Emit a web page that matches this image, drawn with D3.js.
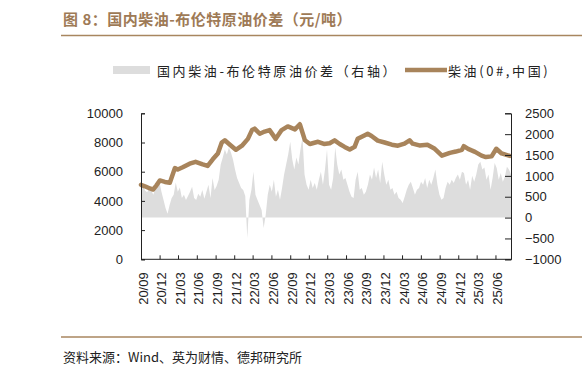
<!DOCTYPE html>
<html>
<head>
<meta charset="utf-8">
<script src="https://cdn.jsdelivr.net/npm/d3@7"></script>
<style>
  body { margin: 0; background: #fff; }
  svg { display: block; }
</style>
</head>
<body>
<svg id="chart" width="582" height="377"></svg>
<script>
// diesel price (left axis, 元/吨)
var diesel = [
  ["2020-09-01",5100],["2020-09-20",5000],["2020-10-15",4850],["2020-10-30",4780],
  ["2020-11-15",5050],["2020-12-02",5400],["2020-12-27",5300],["2021-01-20",5250],
  ["2021-02-14",6250],["2021-02-28",6150],["2021-03-24",6300],["2021-04-27",6550],
  ["2021-05-26",6680],["2021-06-30",6500],["2021-07-24",6400],["2021-08-18",6850],
  ["2021-09-12",7250],["2021-10-01",8000],["2021-10-16",8150],["2021-11-10",7850],
  ["2021-12-09",7500],["2022-01-08",7780],["2022-02-06",8250],["2022-02-26",8850],
  ["2022-03-11",8950],["2022-04-05",8600],["2022-04-29",8750],["2022-05-23",8850],
  ["2022-06-22",8250],["2022-07-21",8850],["2022-08-20",9100],["2022-09-24",8900],
  ["2022-10-18",9250],["2022-11-12",8150],["2022-12-06",7900],["2023-01-15",8050],
  ["2023-02-13",7900],["2023-03-13",7950],["2023-04-06",8150],["2023-05-01",7900],
  ["2023-05-25",7700],["2023-06-19",7520],["2023-07-13",7700],["2023-07-28",8250],
  ["2023-09-01",8500],["2023-09-15",8600],["2023-10-04",8450],["2023-11-03",8130],
  ["2023-12-07",8000],["2024-01-11",7850],["2024-02-10",7780],["2024-03-13",7920],
  ["2024-04-07",8150],["2024-04-22",7920],["2024-05-25",7800],["2024-07-03",7850],
  ["2024-08-08",7570],["2024-09-12",7100],["2024-10-21",7290],["2024-11-19",7380],
  ["2024-12-19",7500],["2024-12-28",7750],["2025-01-18",7560],["2025-02-21",7360],
  ["2025-03-25",7100],["2025-04-15",7000],["2025-05-13",7050],["2025-06-05",7570],
  ["2025-07-01",7250],["2025-08-10",7080]
];

// diesel - brent spread (right axis), one reading every 10 days from spreadStart
var spreadStart = "2020-09-01";
var spreadStepDays = 10;
var spread = [
  660,760,650,610,700, 660,550,700,760, 860, 620,430,230,90, 300,470,550, 840,620,720,
  470,550,420,520,620,740,470,420,570,500,660,450,
  620,790,470,950,660,760,910,
  1270,1440,1630,1510,1680,1560,1390,
  1150,950,830,710, 660,520,-490,420,
  660,1100,545,420,300,180,-250,60,
  545,790,620,910,500,665,425,710,
  1030,1270,1510,1820,1390,1150,1440,1270,1630,1920,
  1030,790,665,910,710,830,665,
  910,1100,790,1150,1630, 790,665,950,1680,
  1270,1030,1150,910,950,790,620,500,
  470,910,1100, 665,710,545,620,790,
  1030,910,1200,950,1150,830,1340,
  1030,790,910,665,710,
  545,620,470,425,350,500,665,
  790,860,710,545,665,
  710,860,790,950,710,910,790,
  950,1150,790, 545,425,470,
  710,860,790,910,830,
  950,1030,910,1100,1070,
  790,910,665,1000,860,
  1030,1270,1340,1150,
  1200,910,1030,665,
  950,1310,1190,910,
  1070,860,980,1220,1150,1030
];

var tickLabels = ["20/09","20/12","21/03","21/06","21/09","21/12","22/03","22/06","22/09","22/12",
                  "23/03","23/06","23/09","23/12","24/03","24/06","24/09","24/12","25/03","25/06"];
var leftTicks = [0,2000,4000,6000,8000,10000];
var rightTicks = [-1000,-500,0,500,1000,1500,2000,2500];

var brown = "#a8845b";
var areaGrey = "#dddddd";
var cjk = "'Noto Sans CJK SC', sans-serif";
var latin = "'Liberation Sans', Arial, sans-serif";

var svg = d3.select("#chart");
var parse = d3.timeParse("%Y-%m-%d");
var parseTick = d3.timeParse("%y/%m");

var start = parse(spreadStart);
var spreadData = spread.map(function(v, i) {
  return { date: d3.timeDay.offset(start, i * spreadStepDays), value: v };
});
var dieselData = diesel.map(function(d) { return { date: parse(d[0]), value: d[1] }; });

var plotLeft = 141, plotRight = 511, plotTop = 113.3, plotBottom = 259.3;

var x = d3.scaleTime()
  .domain([start, spreadData[spreadData.length - 1].date])
  .range([plotLeft, plotRight]);
var yL = d3.scaleLinear().domain([0, 10000]).range([plotBottom, plotTop]);
var yR = d3.scaleLinear().domain([-1000, 2500]).range([plotBottom, plotTop]);

// title
svg.append("text")
  .attr("x", 63).attr("y", 25)
  .attr("font-family", cjk).attr("font-size", 15).attr("font-weight", "bold")
  .attr("letter-spacing", 0.5)
  .attr("fill", "#9e7a56")
  .text("图 8：国内柴油-布伦特原油价差（元/吨）");
svg.append("line").attr("x1", 61).attr("x2", 582).attr("y1", 35.5).attr("y2", 35.5)
  .attr("stroke", "#a8865f").attr("stroke-width", 1.5);

// legend
svg.append("rect").attr("x", 113).attr("y", 66).attr("width", 37).attr("height", 8)
  .attr("fill", areaGrey);
svg.append("text").attr("x", 157).attr("y", 71).attr("dy", "0.35em")
  .attr("font-family", cjk).attr("font-size", 13).attr("letter-spacing", 2.6)
  .attr("fill", "#222").text("国内柴油-布伦特原油价差（右轴）");
svg.append("line").attr("x1", 405).attr("x2", 447).attr("y1", 70).attr("y2", 70)
  .attr("stroke", brown).attr("stroke-width", 4.5);
svg.append("text").attr("x", 448).attr("y", 71).attr("dy", "0.35em")
  .attr("font-family", cjk).attr("font-size", 13).attr("letter-spacing", 2.6)
  .attr("fill", "#222").text("柴油(0#,中国)");

// spread area
var area = d3.area()
  .x(function(d) { return x(d.date); })
  .y0(yR(0))
  .y1(function(d) { return yR(d.value); });
svg.append("path").datum(spreadData).attr("d", area).attr("fill", areaGrey);

// diesel line
var line = d3.line()
  .x(function(d) { return x(d.date); })
  .y(function(d) { return yL(d.value); });
svg.append("path").datum(dieselData).attr("d", line)
  .attr("fill", "none").attr("stroke", brown).attr("stroke-width", 4.5)
  .attr("stroke-linejoin", "round").attr("stroke-linecap", "round");

// axes
var axisL = svg.append("g").attr("transform", "translate(" + plotLeft + ",0)")
  .call(d3.axisRight(yL).tickValues(leftTicks).tickSize(4).tickFormat(d3.format("d")));
var axisR = svg.append("g").attr("transform", "translate(" + plotRight + ",0)")
  .call(d3.axisLeft(yR).tickValues(rightTicks).tickSize(6).tickFormat(d3.format("d")));
var tickDates = tickLabels.map(function(t) { return parseTick(t); });
var axisB = svg.append("g").attr("transform", "translate(0," + plotBottom + ")")
  .call(d3.axisTop(x).tickValues(tickDates).tickSize(4).tickFormat(""));

[axisL, axisR, axisB].forEach(function(g) {
  g.select(".domain").attr("stroke", "#222");
  g.selectAll(".tick line").attr("stroke", "#222");
  g.selectAll(".tick text").attr("font-family", latin).attr("font-size", 13).attr("fill", "#222");
});
axisB.select(".domain").attr("d", "M" + plotLeft + ",0H" + plotRight);
axisL.selectAll(".tick text").attr("x", -18).attr("text-anchor", "end");
axisR.selectAll(".tick text").attr("x", 14).attr("text-anchor", "start");

// rotated date labels
svg.append("g").selectAll("text").data(tickDates).enter().append("text")
  .attr("transform", function(d) { return "translate(" + (x(d) + 2) + "," + (plotBottom + 13) + ") rotate(-90)"; })
  .attr("dy", "0.35em")
  .attr("text-anchor", "end")
  .attr("font-family", latin).attr("font-size", 13).attr("fill", "#222")
  .text(function(d, i) { return tickLabels[i]; });

// footer
svg.append("line").attr("x1", 61).attr("x2", 582).attr("y1", 337).attr("y2", 337)
  .attr("stroke", "#a8865f").attr("stroke-width", 1.5);
svg.append("text").attr("x", 63).attr("y", 357).attr("dy", "0.35em")
  .attr("font-family", cjk).attr("font-size", 13).attr("fill", "#222")
  .text("资料来源：Wind、英为财情、德邦研究所");
</script>
</body>
</html>
